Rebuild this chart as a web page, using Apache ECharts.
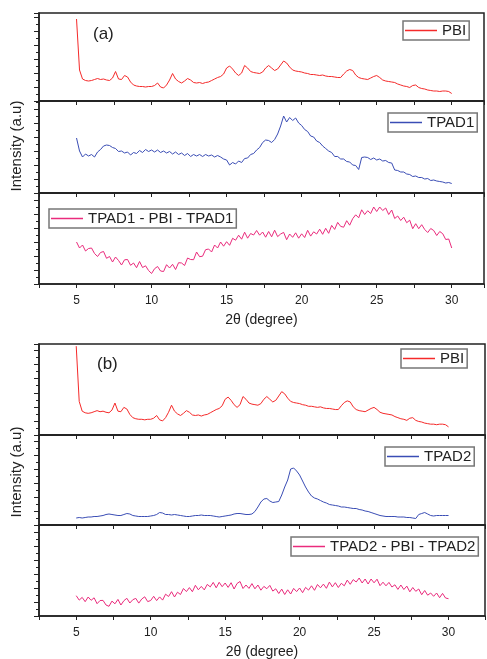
<!DOCTYPE html>
<html>
<head>
<meta charset="utf-8">
<script src="https://cdn.jsdelivr.net/npm/echarts@6/dist/echarts.min.js"></script>
<style>
  html, body { margin: 0; padding: 0; background: #fff; }
  #chart { width: 487px; height: 659px; }
</style>
</head>
<body>
<div id="chart"></div>
<script>
// 2theta sampling (degree)
var twoTheta = [5, 5.2, 5.4, 5.6, 5.8, 6, 6.2, 6.4, 6.6, 6.8, 7, 7.2, 7.4, 7.6, 7.8,
  8, 8.2, 8.4, 8.6, 8.8, 9, 9.2, 9.4, 9.6, 9.8, 10, 10.2, 10.4, 10.6, 10.8,
  11, 11.2, 11.4, 11.6, 11.8, 12, 12.2, 12.4, 12.6, 12.8, 13, 13.2, 13.4, 13.6, 13.8,
  14, 14.2, 14.4, 14.6, 14.8, 15, 15.2, 15.4, 15.6, 15.8, 16, 16.2, 16.4, 16.6, 16.8,
  17, 17.2, 17.4, 17.6, 17.8, 18, 18.2, 18.4, 18.6, 18.8, 19, 19.2, 19.4, 19.6, 19.8,
  20, 20.2, 20.4, 20.6, 20.8, 21, 21.2, 21.4, 21.6, 21.8, 22, 22.2, 22.4, 22.6, 22.8,
  23, 23.2, 23.4, 23.6, 23.8, 24, 24.2, 24.4, 24.6, 24.8, 25, 25.2, 25.4, 25.6, 25.8,
  26, 26.2, 26.4, 26.6, 26.8, 27, 27.2, 27.4, 27.6, 27.8, 28, 28.2, 28.4, 28.6, 28.8,
  29, 29.2, 29.4, 29.6, 29.8, 30];

// intensities (a.u.)
var pbi = [82, 31, 22, 20.5, 20, 20.5, 21.5, 22.5, 21.5, 22, 21, 20.5, 23, 29.5, 22,
  21.5, 25.5, 24, 19, 16, 15, 14.5, 14.5, 14, 14.5, 14.5, 15.5, 18, 14, 13,
  16, 21, 27.5, 22, 19.5, 18, 20, 22.5, 21, 18.5, 18, 18.5, 17.5, 18.5, 19,
  20.5, 22, 23.5, 24.5, 27, 33, 35, 32, 28, 25.5, 28, 35.5, 33, 29.5, 28.5,
  28, 27.5, 29, 33, 35.5, 33, 30.5, 32, 36, 40, 38, 34, 31, 30, 29.5,
  29, 28, 27.5, 26.5, 26.5, 26, 25.5, 26, 25, 24.5, 24.5, 24, 23.5, 23.5, 27,
  30, 31.5, 30.5, 26, 23.5, 22.5, 22, 21.5, 23, 24.5, 25.5, 23.5, 21, 20, 19.5,
  19, 18.5, 17, 16, 15, 14.5, 13.5, 15.5, 16, 13.5, 12.5, 12, 11, 10.5, 10,
  10, 9.5, 10, 10, 9.5, 7.5];

var tpad1 = [55, 42, 36, 39, 37, 38.5, 36, 41, 43.5, 47, 48, 47.5, 45.5, 44.5, 41.5,
  42, 40, 41, 38, 40.5, 39.5, 42.5, 40.5, 43.5, 41.5, 43, 41, 43, 40.5, 42,
  40, 41.5, 39, 41, 38.5, 40, 37.5, 39.5, 36.5, 38.5, 37, 38.5, 36.5, 38.5, 37,
  38, 36, 37.5, 36, 34, 33, 28, 30.5, 29, 32, 30.5, 34.5, 35, 38.5, 39.5,
  43, 45.5, 50.5, 53, 52.5, 50.5, 53.5, 59, 67, 77, 71, 75.5, 72.5, 75, 70,
  67.5, 63.5, 61.5, 57, 56, 52, 50.5, 47, 44.5, 42, 40.5, 36.5, 36.5, 34, 34,
  31.5, 31, 28, 27.5, 23.5, 35.5, 36, 35.5, 33.5, 35, 33, 34, 32, 32.5, 30.5,
  30, 23, 22.5, 21, 21, 19, 18.5, 16.5, 17, 15.5, 15.5, 14, 14.5, 12.5, 13,
  12, 11.5, 11, 10, 10.5, 9.5];

var tpad1Pbi = [42, 36, 39, 33, 35.5, 36, 30.5, 27.5, 31.5, 32.5, 25.7, 27.5, 22, 27, 23.5,
  19, 24.2, 24.5, 18.7, 21, 16.3, 22.5, 16.5, 18.2, 13.5, 10.5, 15.3, 17.5, 13, 12.5,
  19.3, 16, 19.7, 14.5, 21.3, 21, 18.5, 26, 24.5, 24.3, 32, 27.3, 27.8, 34.3, 35,
  32, 39, 36, 42, 37.8, 42.3, 38.7, 45.7, 43.8, 48.8, 44.8, 51.8, 45.8, 50.5, 49,
  53.5, 48.8, 52, 46.8, 52.5, 47.2, 53.8, 47.4, 50, 51.6, 44.3, 50, 46.7, 51.2, 45.8,
  50.2, 46.5, 53.7, 47.9, 52.2, 50, 54.8, 49.7, 55.7, 50.7, 58.6, 54.6, 61.6, 57.6, 56.8,
  63.3, 58.8, 65.3, 69.2, 66.2, 74.2, 69.5, 73.3, 70.5, 77, 72.5, 77, 73.5, 76, 69.5,
  74, 65.5, 68, 63.5, 66.8, 61.3, 63.8, 55.3, 60.3, 55.3, 59.3, 54.5, 51.5, 55.5, 53.5,
  48.5, 52.5, 50.3, 44.5, 45, 36];

var tpad2 = [7, 7.5, 7, 7.5, 8, 8, 8.5, 8.5, 9, 9.5, 10.5, 11, 10.5, 10, 9.5,
  9.5, 10.5, 11.5, 11, 9.5, 9, 8.5, 8.5, 8.5, 8.5, 9, 9.5, 10.5, 12.5, 12,
  10.5, 10.5, 10, 10.5, 10, 9.5, 9, 8.5, 8.5, 9, 9.5, 9.5, 10, 9.5, 9.5,
  9.5, 9, 8.5, 8, 8.5, 9, 9.5, 10, 11, 11.5, 11.5, 11, 10.5, 10.5, 11,
  13.5, 18, 23, 26, 26.5, 24, 22.5, 23, 23.5, 30, 38, 45, 56, 57, 54,
  50, 44, 38, 33, 29, 27, 26, 24.5, 23, 22, 20.5, 20, 19.5, 19, 18,
  18, 17.5, 17, 16.5, 16.5, 15.5, 15, 14, 13.5, 12.5, 11.5, 10.5, 9.5, 9, 8.5,
  8.5, 8.5, 8.5, 8, 8, 8, 7.5, 7.5, 7, 6.5, 10.5, 11.5, 12.5, 11, 9.5,
  9, 9.5, 9.5, 9.5, 9.5, 9.5];

var tpad2Pbi = [20.3, 15.9, 18.6, 14.3, 19, 15.7, 18.2, 12.3, 15.5, 15.6, 11, 9.7, 14.9, 12.2, 16.6,
  11, 15.3, 17.7, 13, 16.3, 17.6, 12.9, 17, 19.2, 14.4, 15.5, 19.7, 15.4, 19.1, 15.9,
  21.8, 19.5, 24.3, 19, 23.8, 21.5, 27.5, 24.4, 28.4, 24.3, 30.7, 26.2, 29.6, 26.1, 31.6,
  29.1, 33.6, 28.2, 33.7, 29.3, 33, 28.6, 33.3, 27, 32.5, 34.5, 27.5, 31, 27.6, 32.4,
  27.2, 31, 25.8, 29.6, 27.3, 30.6, 24.9, 27.2, 22.5, 26.9, 21.5, 26.2, 22, 27.6, 24.4,
  28, 23.3, 28.6, 25.9, 30.2, 25.7, 31.5, 28.2, 31.9, 27.7, 33.9, 29.1, 33.3, 28.5, 32.7,
  30.2, 35.9, 31.7, 36.4, 34, 38, 33, 37, 32, 37, 33.2, 36.8, 30.3, 33.8, 30.2,
  33.6, 29, 31.2, 26.6, 31, 26.5, 29.9, 24.2, 28.5, 24.7, 27, 21.3, 25.5, 20.8, 23,
  19.7, 23, 18.3, 22.6, 18, 17.3];

var xTickLabels = [5, 10, 15, 20, 25, 30];
var seriesNames = ['PBI', 'TPAD1', 'TPAD1 - PBI - TPAD1', 'PBI', 'TPAD2', 'TPAD2 - PBI - TPAD2'];
var seriesValues = [pbi, tpad1, tpad1Pbi, pbi, tpad2, tpad2Pbi];
var seriesColors = ['#f52a2a', '#3a4db5', '#ea2b7c', '#f52a2a', '#3a4db5', '#ea2b7c'];

var font = 'Liberation Sans, Arial, sans-serif';
var ink = '#222';

// panel layout: 3 stacked plots in (a), 3 in (b)
var grids = [
  { left: 39, top: 13, width: 445, height: 88 },
  { left: 39, top: 101, width: 445, height: 92 },
  { left: 39, top: 193, width: 445, height: 91 },
  { left: 39, top: 344, width: 446, height: 91 },
  { left: 39, top: 435, width: 446, height: 90 },
  { left: 39, top: 525, width: 446, height: 91 }
];
var xMax = [32.15, 32.15, 32.15, 32.45, 32.45, 32.45];
var yMax = [88, 92, 91, 84, 90, 91];
var yStep = [14, 14, 14, 13, 14, 14];

var legendPos = [
  { left: 403, top: 21 },
  { left: 388, top: 113 },
  { left: 49, top: 209 },
  { left: 401, top: 349 },
  { left: 385, top: 447 },
  { left: 291, top: 537 }
];

var dom = document.getElementById('chart');
var myChart = echarts.init(dom, null, { renderer: 'canvas' });

var option = {
  animation: false,
  backgroundColor: '#fff',
  textStyle: { fontFamily: font },
  title: [
    { text: '(a)', left: 93, top: 26, padding: 0,
      textStyle: { fontSize: 17, fontWeight: 'normal', color: ink, fontFamily: font } },
    { text: '(b)', left: 97, top: 356, padding: 0,
      textStyle: { fontSize: 17, fontWeight: 'normal', color: ink, fontFamily: font } }
  ],
  graphic: [
    { type: 'text', x: 17, y: 146, rotation: Math.PI / 2,
      style: { text: 'Intensity (a.u)', fontSize: 15, fontFamily: font, fill: ink,
               align: 'center', verticalAlign: 'middle' } },
    { type: 'text', x: 17, y: 472, rotation: Math.PI / 2,
      style: { text: 'Intensity (a.u)', fontSize: 15, fontFamily: font, fill: ink,
               align: 'center', verticalAlign: 'middle' } }
  ],
  legend: [],
  grid: [],
  xAxis: [],
  yAxis: [],
  series: []
};

for (var i = 0; i < 6; i++) {
  var bottom = (i === 2 || i === 5);
  option.grid.push({
    left: grids[i].left, top: grids[i].top, width: grids[i].width, height: grids[i].height,
    show: true, borderColor: ink, borderWidth: 1.5, backgroundColor: 'transparent',
    containLabel: false, outerBoundsMode: 'none'
  });
  option.xAxis.push({
    gridIndex: i, type: 'value', min: 2.5, max: xMax[i], interval: 2.5,
    name: bottom ? '2θ (degree)' : '',
    nameLocation: 'middle', nameGap: 29,
    nameTextStyle: { fontSize: 14, color: ink, fontFamily: font },
    axisLine: { show: true, onZero: false, lineStyle: { color: ink, width: 1.5 } },
    axisTick: { show: true, inside: false, length: 4, lineStyle: { color: ink, width: 1 } },
    axisLabel: {
      show: bottom, interval: 0, margin: 11, fontSize: 12, color: ink, fontFamily: font,
      formatter: function (v) { return xTickLabels.indexOf(v) >= 0 ? String(v) : ''; }
    },
    splitLine: { show: false }
  });
  option.yAxis.push({
    gridIndex: i, type: 'value', min: 0, max: yMax[i], interval: yStep[i],
    axisLine: { show: true, onZero: false, lineStyle: { color: ink, width: 1.5 } },
    axisTick: { show: true, inside: false, length: 5, lineStyle: { color: ink, width: 1 } },
    minorTick: { show: true, splitNumber: 2, length: 3, lineStyle: { color: ink, width: 1 } },
    axisLabel: { show: false },
    splitLine: { show: false },
    minorSplitLine: { show: false }
  });
  var vals = seriesValues[i];
  option.series.push({
    name: seriesNames[i],
    type: 'line',
    xAxisIndex: i, yAxisIndex: i,
    symbol: 'none',
    color: seriesColors[i],
    itemStyle: { color: seriesColors[i] },
    lineStyle: { color: seriesColors[i], width: 1 },
    data: twoTheta.map(function (x, k) { return [x, vals[k]]; })
  });
  option.legend.push({
    data: [{ name: seriesNames[i], itemStyle: { color: seriesColors[i] } }],
    left: legendPos[i].left, top: legendPos[i].top,
    orient: 'horizontal',
    padding: [2, 3, 2, 2],
    icon: 'rect',
    itemWidth: 32, itemHeight: 1.5,
    borderColor: '#777', borderWidth: 1.5, borderRadius: 0,
    selectedMode: false,
    textStyle: { fontSize: 15, color: ink, fontFamily: font }
  });
}

if (option && typeof option === 'object') {
  myChart.setOption(option, true);
}
</script>
</body>
</html>
